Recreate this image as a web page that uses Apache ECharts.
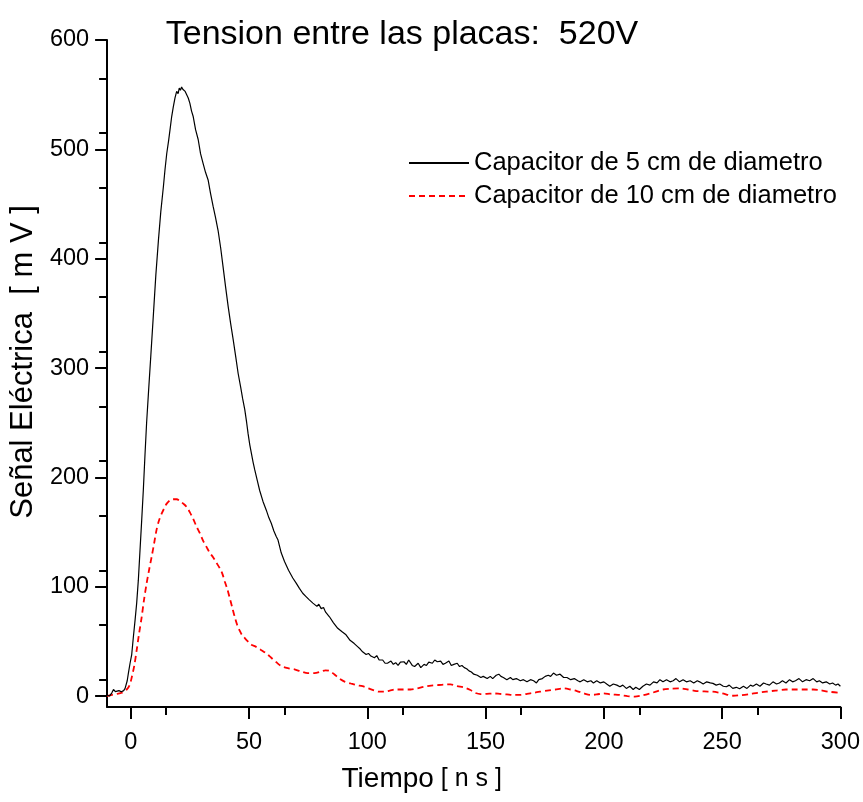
<!DOCTYPE html>
<html>
<head>
<meta charset="utf-8">
<title>Tension entre las placas: 520V</title>
<script src="https://cdn.jsdelivr.net/npm/echarts@6/dist/echarts.min.js"></script>
<style>
  html, body { margin: 0; padding: 0; background: #fff; }
  #chart { width: 863px; height: 802px; }
</style>
</head>
<body>
<div id="chart"></div>
<script>
// Signal from the 5 cm capacitor: [time (ns), signal (mV)]
const capacitor5cm = [
  [-10,1],[-9,0],[-8,3],[-7.3,6],[-6.5,4],[-5.9,4],[-5,5],[-4,4],[-3,5],[-2.4,7],[-1.5,14],[-1,21],[-0.3,30],[0.4,38],
  [1.1,54],[1.8,69],[2.5,85],[3.2,106],[3.9,133],[4.6,160],[5.3,188],[6,220],[6.7,250],[7.5,278],[8.5,312],[9.6,350],
  [10.6,385],[11.7,417],[12.7,443],[13.8,466],[14.5,482],[15.2,496],[16,508],[16.6,518],[17.3,530],[18,539],[18.7,547],
  [19.4,553],[20,551],[20.5,556],[21,554],[21.5,557],[22,555],[22.6,556],[23,553],[23.6,552],[24.3,547],[25,542],
  [25.7,535],[26.4,530],[27.4,518],[28.5,509],[29.5,496],[30.6,487],[31.6,479],[32.7,472],[33.7,460],[34.8,448],
  [35.8,438],[36.9,426],[38,410],[39,393],[40.1,374],[41.2,356],[42.2,341],[43.3,326],[44.4,310],[45.4,295],[46.5,282],
  [47.3,272],[48.2,262],[49,250],[49.6,240],[50.3,230],[51,222],[51.7,214],[52.4,207],[53.5,197],[54.5,188],[55.9,178],
  [57.3,170],[58.4,163],[59.4,158],[60.5,151],[61.5,146],[62.2,143],[63.6,131],[65,123],[66.7,115],[68.5,108],[70,103],
  [71.3,98.5],[72.7,94],[74.1,91],[75.5,88],[77,85],[78.7,82],[79.5,84],[80.5,80],[81.5,81],[82.3,77],[84,72.5],
  [85.7,67],[87.5,62],[89.2,59],[91,56],[92.7,51],[94.5,48],[96,45],[97,43],[98,40.5],[99.5,38],[100.5,39],[101.5,36.6],
  [103,35],[104,37],[105,33],[106.5,33],[107.5,30],[108.5,30],[110,32],[111,29],[112,30.5],[113,28],[114,31],[115.5,31.4],
  [116.5,29],[117.5,33],[119,28],[120,27],[121.5,30],[122.6,26],[124,29],[125,28],[126,31],[127.5,30],[128.5,33],
  [129.6,31.4],[131,32],[132,29],[133,30],[134.5,32],[135.5,28],[136.6,29],[138,30],[139,27],[140,28],[141,26],[142,25],
  [143,23],[144,22],[145,20],[146.5,19],[148,17],[149,18],[150.7,16],[152,18],[153,16],[154.5,19],[155.6,20],[156.5,18],
  [157.5,17],[159,15],[160.5,17],[161.5,15],[163,16],[164.7,14],[166,15],[167.5,13],[169,15],[170.3,14],[171.5,12],
  [172.5,15],[174,16],[175.2,18],[176.5,19],[177.5,18],[178.7,21],[180,19],[181.5,20],[183,17],[184.4,17],[186,15],
  [187.5,16],[189,14],[190,13],[191.5,15],[193,13],[194.5,14],[195.6,12],[197,14],[198.5,12],[200,13],[201.2,11],
  [202.5,9],[204,11],[205.5,10],[206.8,8.5],[208,10],[209.5,7],[211,9],[212.4,6],[213.5,8],[215,6],[216.5,9],[218,11],
  [219.5,10],[221,13],[222.5,12],[223.7,15],[225,13],[226.5,15],[228,13],[229.3,14],[230.5,16],[232,13],[233.5,15],
  [234.9,13],[236.5,14],[238,12],[239.5,14],[240.5,13],[242,11],[243.5,13],[245,12],[246.1,11.6],[247.5,10],[249,11],
  [250.5,9],[251.8,8.5],[253,10],[254.5,7],[256,8],[257.4,6.7],[259,9],[260.5,7],[262,10],[263,9],[264.5,11],[266,9],
  [267.5,12],[268.6,11],[270,10],[271.5,13],[273,11],[274.2,12],[275.5,14],[277,12],[278.5,15],[279.8,13],[281,14],
  [282.5,16],[284,13],[285.5,15],[287,14],[288.5,16],[290,13],[291.1,14],[292.5,12],[294,13],[295.5,11],[296.7,12],
  [298,10],[299,11],[300,9]
];

// Signal from the 10 cm capacitor: [time (ns), signal (mV)]
const capacitor10cm = [
  [-10,0],[-8,1],[-6,2],[-3.8,3],[-1.7,6],[-0.5,10],[0.4,17],[1.5,28],[2.5,42],[3.5,57],[4.6,72],[5.6,88],[6.7,103],
  [7.8,116],[8.8,127],[9.9,140],[10.9,152],[12,161],[13.1,167],[14.2,172],[15.2,176],[16.6,179],[18,180],[19.4,180],
  [20.8,178.5],[22.2,176],[23.6,173],[25,168],[26.4,162],[27.8,155],[29.2,149],[30.6,142],[32,136.5],[33.4,131],
  [34.8,127],[36.2,122],[37.6,117],[38.7,112],[39.7,105],[40.8,98],[41.8,90],[42.9,81],[44,72],[45,65],[46,60],[47,56],
  [48.2,53],[49.5,50],[51,47],[53,45],[55.2,42],[57.3,39],[59.4,35],[61.5,31],[63.6,27.5],[66.4,25.5],[69.2,24.4],
  [72,22.5],[74.8,21],[77.6,21],[80.5,22.5],[82.3,23.5],[84,23],[86,20],[88.2,16],[90.6,13],[93,11.5],[95.5,10],[98,9],
  [100.5,7],[103,5],[105,4],[107,4],[109.5,5],[112,6],[115,6],[118.3,6],[121,7],[124,8.5],[127,9.5],[129.6,10],
  [132.5,10.5],[135.2,10.7],[138,9],[140.8,8],[143.6,5.5],[145.5,3],[147.9,1.8],[150.5,2],[153.5,2.4],[156,2],[159,1.5],
  [162,1],[164.7,1],[167.5,2],[170.3,3],[173,4],[176,5],[179.5,6],[183,7],[186,6],[188.6,4.6],[191.5,2.5],[194.2,1],
  [197,1.5],[199.8,2.4],[203,1.5],[206.8,1],[210,0],[213.1,-0.5],[216,0.5],[219.5,2.4],[222,4],[225,6],[228.5,6.8],
  [232.1,7],[235.5,6],[239.1,4.6],[242.5,4.2],[246.1,4],[250,2.5],[254.6,0.3],[258,0.8],[261.6,1.8],[265,3],[268.6,4],
  [272.5,5],[277,6],[281,6],[285.5,6],[288.5,6],[291.1,5.5],[295,4],[300,3]
];

const seriesNames = ['Capacitor de 5 cm de diametro', 'Capacitor de 10 cm de diametro'];
const xTickValues = [0, 50, 100, 150, 200, 250, 300];
const yTickValues = [0, 100, 200, 300, 400, 500, 600];

const FONT = '"Liberation Sans", Arial, sans-serif';
const chart = echarts.init(document.getElementById('chart'), null, { renderer: 'canvas' });

const axisCommon = {
  axisLine: { show: true, onZero: false, lineStyle: { color: '#000', width: 2 } },
  axisTick: { show: true, inside: false, length: 12, lineStyle: { color: '#000', width: 2 } },
  minorTick: { show: true, splitNumber: 2, length: 8, lineStyle: { color: '#000', width: 2 } },
  splitLine: { show: false },
  minorSplitLine: { show: false }
};

chart.setOption({
  animation: false,
  backgroundColor: '#fff',
  title: {
    text: 'Tension entre las placas:  520V',
    left: 397,
    top: 13,
    textAlign: 'center',
    textStyle: { fontFamily: FONT, fontSize: 34, fontWeight: 'normal', color: '#000' }
  },
  legend: {
    orient: 'vertical',
    left: 403,
    top: 145,
    itemWidth: 60,
    itemHeight: 14,
    itemGap: 7,
    itemStyle: { opacity: 0 },
    textStyle: { fontFamily: FONT, fontSize: 25.5, color: '#000' },
    data: seriesNames
  },
  grid: { left: 105, right: 21, top: 40, bottom: 95, containLabel: false },
  xAxis: Object.assign({}, axisCommon, {
    type: 'value',
    min: -10,
    max: 300,
    interval: 50,
    name: 'Tiempo{u| [ n s ]}',
    nameLocation: 'middle',
    nameGap: 58,
    nameTextStyle: {
      fontFamily: FONT, fontSize: 28, color: '#000', padding: [0, 104, 0, 0],
      rich: { u: { fontFamily: FONT, fontSize: 25, color: '#000' } }
    },
    axisLabel: {
      fontFamily: FONT, fontSize: 23.5, color: '#000', margin: 24,
      customValues: xTickValues
    },
    axisTick: Object.assign({}, axisCommon.axisTick, { customValues: xTickValues })
  }),
  yAxis: Object.assign({}, axisCommon, {
    type: 'value',
    min: -10,
    max: 600,
    interval: 50,
    name: 'Señal Eléctrica  [ m V ]',
    nameLocation: 'middle',
    nameGap: 64,
    nameTextStyle: { fontFamily: FONT, fontSize: 31, color: '#000', padding: [0, 0, 0, 23] },
    axisLabel: {
      fontFamily: FONT, fontSize: 23.5, color: '#000', margin: 18,
      customValues: yTickValues
    },
    axisTick: Object.assign({}, axisCommon.axisTick, { customValues: yTickValues })
  }),
  series: [
    {
      name: seriesNames[0],
      type: 'line',
      data: capacitor5cm,
      symbol: 'none',
      lineStyle: { color: '#000', width: 1.2 },
      itemStyle: { color: '#000' },
      z: 3
    },
    {
      name: seriesNames[1],
      type: 'line',
      data: capacitor10cm,
      symbol: 'none',
      smooth: 0.3,
      lineStyle: { color: '#ff0000', width: 1.8, type: [6, 4] },
      itemStyle: { color: '#ff0000' },
      z: 2
    }
  ]
});
</script>
</body>
</html>
